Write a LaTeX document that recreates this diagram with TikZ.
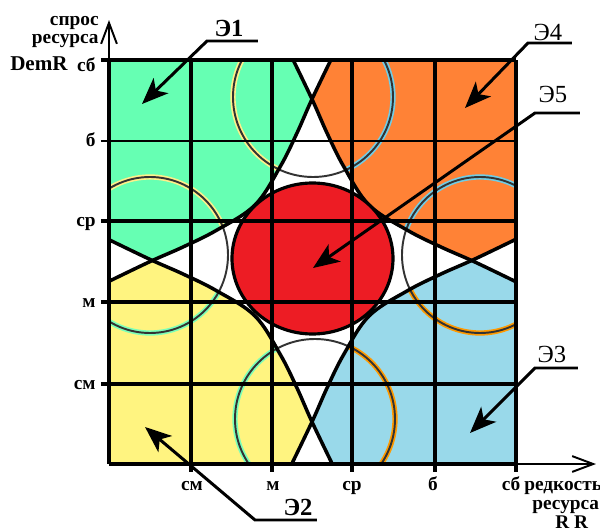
\documentclass[tikz,border=0pt]{standalone}
\usepackage{fontspec}
\setmainfont{Liberation Serif}
\usetikzlibrary{arrows.meta}
\definecolor{cgreen}{HTML}{66FFB3}
\definecolor{corange}{HTML}{FF8236}
\definecolor{cyellow}{HTML}{FFF480}
\definecolor{cblue}{HTML}{99D9EA}
\definecolor{cred}{HTML}{ED1C24}
\definecolor{hyellow}{HTML}{FFF08A}
\definecolor{hblue}{HTML}{70CDE6}
\definecolor{horange}{HTML}{FF9A00}
\definecolor{hgreen}{HTML}{7CFFB8}
\begin{document}
\begin{tikzpicture}[x=0.02cm,y=-0.02cm,
  tlshape/.style={insert path={plot[smooth,tension=0.6] coordinates {(342,37) (313,97) (297,133) (280,167) (255,205) (217,230) (183,247) (147,263) (87,292)} -- (50,0) -- cycle}},
  trshape/.style={insert path={plot[smooth,tension=0.6] coordinates {(282,37) (311,97) (327,133) (344,167) (369,205) (407,230) (441,247) (477,263) (537,292)} -- (574,0) -- cycle}},
  blshape/.style={insert path={plot[smooth,tension=0.6] coordinates {(342,484) (313,424) (297,388) (280,354) (255,316) (217,291) (183,274) (147,258) (87,229)} -- (50,540) -- cycle}},
  brshape/.style={insert path={plot[smooth,tension=0.6] coordinates {(282,484) (311,424) (327,388) (344,354) (369,316) (407,291) (441,274) (477,258) (537,229)} -- (574,540) -- cycle}},
  circs/.style={insert path={(313,97) circle[radius=80] (315,419) circle[radius=80] (150,255) circle[radius=78] (480,255) circle[radius=78]}},
  gridline/.style={line width=2.2pt, black},
  thingrid/.style={line width=1.5pt, black},
  curveline/.style={line width=2pt, black},
  thinline/.style={line width=1.1pt, black!80},
  halo/.style={line width=3pt},
  lbl/.style={font=\bfseries\fontsize{11}{13}\selectfont, inner sep=0pt},
  elbl/.style={font=\fontsize{14}{16}\selectfont, inner sep=0pt},
  eblbl/.style={font=\bfseries\fontsize{14}{16}\selectfont, inner sep=0pt},
  leader/.style={line width=1.7pt, -{Stealth[length=15pt,width=12pt,inset=4pt]}},
  axisline/.style={line width=1.1pt, -{Straight Barb[length=12pt,width=9pt]}}]
\useasboundingbox[fill=white] (0,0) rectangle (600,531);

% coloured regions
\begin{scope}
  \clip (109,60) rectangle (516,464);
  \fill[cgreen, tlshape];
  \fill[corange, trshape];
  \fill[cyellow, blshape];
  \fill[cblue, brshape];
  \begin{scope}\clip[tlshape]; \fill[white, trshape]; \fill[white, blshape]; \end{scope}
  \begin{scope}\clip[brshape]; \fill[white, trshape]; \fill[white, blshape]; \end{scope}
  \begin{scope}\clip[tlshape]; \draw[hyellow, halo, circs]; \end{scope}
  \begin{scope}\clip[trshape]; \draw[hblue, halo, circs]; \end{scope}
  \begin{scope}\clip[blshape]; \draw[hgreen, halo, circs]; \end{scope}
  \begin{scope}\clip[brshape]; \draw[horange, halo, circs]; \end{scope}
  \draw[thinline, circs];
  \draw[curveline, tlshape];
  \draw[curveline, trshape];
  \draw[curveline, blshape];
  \draw[curveline, brshape];
\end{scope}

% central circle
\filldraw[fill=cred, draw=black, line width=1.8pt] (312.5,258.5) ellipse[x radius=80.5, y radius=75.5];

% grid
\foreach \x in {191,272,352,435,516} \draw[gridline] (\x,60) -- (\x,472);
\foreach \y in {60,221,302,384} \draw[gridline] (101,\y) -- (516,\y);
\draw[thingrid] (101,141) -- (516,141);
\draw[gridline] (109,60) -- (109,464);
\draw[gridline] (109,464) -- (516,464);

% axes
\coordinate (o) at (109,464);
\coordinate (ytop) at (109,20);
\coordinate (xend) at (596,464);
\draw[axisline] (109,60) -- (ytop);
\draw[axisline] (516,464) -- (xend);

% axis labels
\node[lbl, anchor=base east] (ya) at (99,25) {спрос};
\node[lbl, anchor=base east] (yb) at (99,43) {ресурса};
\node[lbl, anchor=base east, font=\bfseries\fontsize{12}{14}\selectfont] (yc) at (68,70) {DemR};
\node[lbl, anchor=base east] (y5) at (96,71) {сб};
\node[lbl, anchor=base east] (y4) at (96,146) {б};
\node[lbl, anchor=base east] (y3) at (96,226) {ср};
\node[lbl, anchor=base east] (y2) at (96,307) {м};
\node[lbl, anchor=base east] (y1) at (96,389) {см};

\node[lbl, anchor=base] (x1) at (192,490) {см};
\node[lbl, anchor=base] (x2) at (273,490) {м};
\node[lbl, anchor=base] (x3) at (352,490) {ср};
\node[lbl, anchor=base] (x4) at (433,490) {б};
\node[lbl, anchor=base] (x5) at (511,490) {сб};
\node[lbl, anchor=base west] (xa) at (524,490) {редкость};
\node[lbl, anchor=base west] (xb) at (532,509) {ресурса};
\node[lbl, anchor=base west] (xc) at (555,528) {R R};

% callouts
\node[eblbl, anchor=base] (e1) at (229,36) {Э1};
\coordinate (e1u) at (258,41);
\coordinate (e1b) at (207,41);
\coordinate (e1t) at (142,104);
\draw[leader] (e1u) -- (e1b) -- (e1t);

\node[elbl, anchor=base] (e4) at (548,40) {Э4};
\coordinate (e4u) at (572,43);
\coordinate (e4b) at (528,43);
\coordinate (e4t) at (465,108);
\draw[leader] (e4u) -- (e4b) -- (e4t);

\node[elbl, anchor=base] (e5) at (553,102) {Э5};
\coordinate (e5u) at (580,113);
\coordinate (e5b) at (535,113);
\coordinate (e5t) at (313,268);
\draw[leader] (e5u) -- (e5b) -- (e5t);

\node[elbl, anchor=base] (e3) at (552,362) {Э3};
\coordinate (e3u) at (578,368);
\coordinate (e3b) at (535,368);
\coordinate (e3t) at (470,433);
\draw[leader] (e3u) -- (e3b) -- (e3t);

\node[eblbl, anchor=base] (e2) at (298,515) {Э2};
\coordinate (e2u) at (317,520);
\coordinate (e2b) at (255,520);
\coordinate (e2t) at (145,427);
\draw[leader] (e2u) -- (e2b) -- (e2t);
\end{tikzpicture}
\end{document}
